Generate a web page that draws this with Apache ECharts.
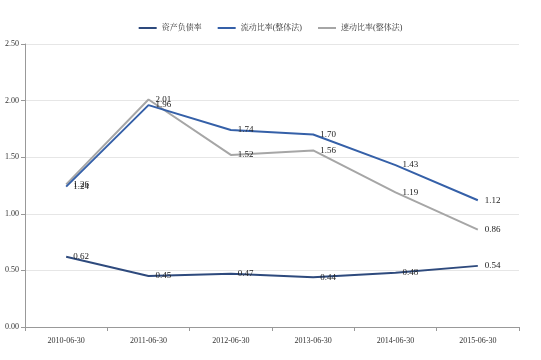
<!DOCTYPE html>
<html><head><meta charset="utf-8">
<script src="https://cdn.jsdelivr.net/npm/echarts@6/dist/echarts.min.js"></script>
<style>html,body{margin:0;padding:0;background:#fff}#c{width:541px;height:360px}</style>
</head><body><div id="c"></div>
<script>
const categories = ['2010-06-30','2011-06-30','2012-06-30','2013-06-30','2014-06-30','2015-06-30'];
const debtRatio = [0.62, 0.45, 0.47, 0.44, 0.48, 0.54];
const currentRatio = [1.24, 1.96, 1.74, 1.70, 1.43, 1.12];
const quickRatio = [1.26, 2.01, 1.52, 1.56, 1.19, 0.86];
const yTicks = ['0.00','0.50','1.00','1.50','2.00','2.50'];
const names = ['资产负债率','流动比率(整体法)','速动比率(整体法)'];

const chart = echarts.init(document.getElementById('c'));
const font = "'Liberation Serif','Noto Serif CJK SC','Noto Sans CJK SC',serif";
function mk(name, data, color, z){
  return {name, type:'line', data, symbol:'circle', symbolSize:0.01, showSymbol:true, z,
    lineStyle:{color, width:2}, itemStyle:{color},
    labelLayout:{hideOverlap:false},
    label:{show:true, position:'right', distance:7, color:'#222', fontFamily:font, fontSize:9,
      formatter:p=>p.value.toFixed(2)}};
}
chart.setOption({
  animation:false,
  textStyle:{fontFamily:font},
  legend:{top:19, left:'center', itemWidth:18, itemHeight:2, itemGap:16,
    icon:'rect',
    textStyle:{fontSize:8, color:'#333', fontFamily:font},
    data:names},
  grid:{left:25, right:22, top:44, bottom:33, containLabel:false},
  xAxis:{type:'category', data:categories, boundaryGap:true,
    axisLine:{lineStyle:{color:'#999', width:1}},
    axisTick:{show:true, alignWithLabel:false, length:4, lineStyle:{color:'#999'}},
    axisLabel:{fontSize:8, color:'#333', fontFamily:font, margin:10}},
  yAxis:{type:'value', min:0, max:2.5, interval:0.5,
    axisLine:{show:true, lineStyle:{color:'#999', width:1}},
    axisTick:{show:true, length:4, lineStyle:{color:'#999'}},
    splitLine:{lineStyle:{color:'#e6e6e6'}},
    axisLabel:{fontSize:8, color:'#333', fontFamily:font, margin:6,
      formatter:v=>yTicks[Math.round(v/0.5)]}},
  series:[
    mk(names[0], debtRatio, '#2E4A7D', 3),
    mk(names[1], currentRatio, '#3560A8', 3),
    mk(names[2], quickRatio, '#A6A6A6', 2)
  ]
});
</script></body></html>
